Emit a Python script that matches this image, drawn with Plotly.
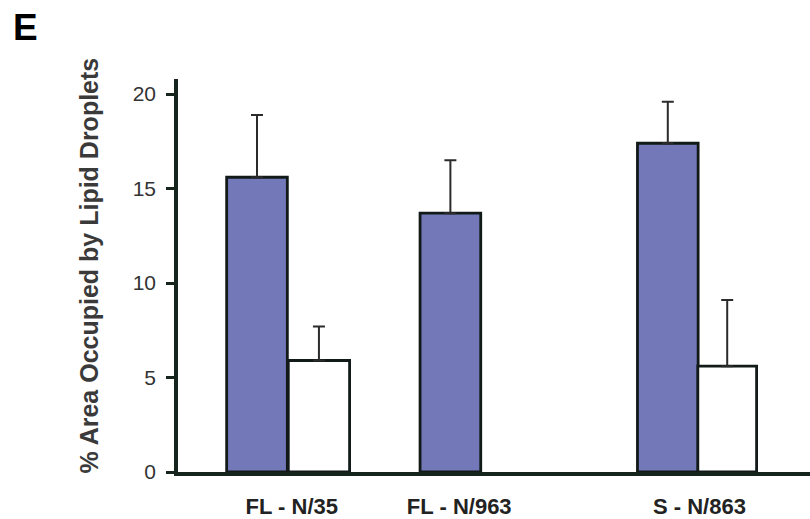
import plotly.graph_objects as go

# Data
group_labels = ["FL - N/35", "FL - N/963", "S - N/863"]
label_pos = [1.80, 4.45, 8.25]

blue_x = [1.25, 4.31, 7.75]
blue_vals = [15.6, 13.7, 17.4]
blue_err = [3.3, 2.8, 2.2]

white_x = [2.23, 8.69]
white_vals = [5.9, 5.6]
white_err = [1.8, 3.5]

y_ticks = [0, 5, 10, 15, 20]

L, T, B, W, H = 178, 79, 44, 810, 519
PW, PH = W - L, H - T - B

FONT = "Liberation Sans, Arial, sans-serif"
AXC = "#16241e"

fig = go.Figure()
fig.add_trace(go.Bar(
    x=blue_x, y=blue_vals, width=0.96,
    marker=dict(color="#7378b8", line=dict(color="#111a18", width=2.8)),
    error_y=dict(type="data", array=blue_err, arrayminus=[0]*len(blue_err), symmetric=False,
                 color="#2b2b2b", thickness=2, width=6),
    showlegend=False, hoverinfo="skip",
))
fig.add_trace(go.Bar(
    x=white_x, y=white_vals, width=[0.97, 0.93],
    marker=dict(color="#ffffff", line=dict(color="#111a18", width=2.8)),
    error_y=dict(type="data", array=white_err, arrayminus=[0]*len(white_err), symmetric=False,
                 color="#2b2b2b", thickness=2, width=6),
    showlegend=False, hoverinfo="skip",
))

fig.update_layout(
    width=W, height=H,
    margin=dict(l=L, r=0, t=T, b=B, pad=0),
    plot_bgcolor="white", paper_bgcolor="white",
    font=dict(family=FONT, color="#333333"),
    barmode="overlay",
    xaxis=dict(range=[0, 10], showgrid=False, zeroline=False,
               tickmode="array", tickvals=label_pos, ticktext=group_labels,
               ticks="", showline=True, linecolor=AXC, linewidth=3.5,
               tickfont=dict(size=22, family=FONT, color="#222222", weight="bold"),
               ticklabelstandoff=12),
    yaxis=dict(range=[0, 20.8], showgrid=False, zeroline=False,
               tickvals=y_ticks, ticks="outside", ticklen=8, tickwidth=2.5,
               tickcolor=AXC, showline=True, linecolor=AXC, linewidth=3.5,
               tickfont=dict(size=21, color="#333333", family=FONT),
               ticklabelstandoff=6),
)

# y-axis title
fig.add_annotation(text="<b>% Area Occupied by Lipid Droplets</b>",
                   x=-(L - 89) / PW, y=1 - (267 - T) / PH, xref="paper", yref="paper",
                   xanchor="center", yanchor="middle", textangle=-90, showarrow=False,
                   font=dict(size=25, color="#3a3a3a", family=FONT))

# panel letter
fig.add_annotation(text="<b>E</b>", x=-(L - 11) / PW, y=1 + (T - 27) / PH,
                   xref="paper", yref="paper", xanchor="left", yanchor="middle",
                   showarrow=False, font=dict(size=37, color="#000000", family=FONT))

fig.write_html("out.html", config={"displayModeBar": False},
               post_script="document.body.style.margin='0';document.body.style.overflow='hidden';")
